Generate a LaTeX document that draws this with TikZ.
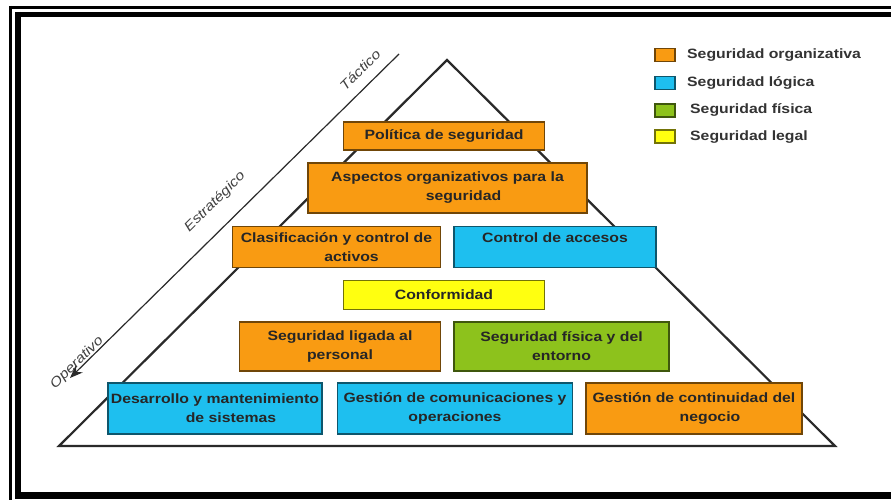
\documentclass[tikz,border=0pt]{standalone}
\usepackage{fontspec}
\setmainfont{Liberation Sans}[FakeStretch=1.17]
\usetikzlibrary{arrows.meta}
\definecolor{org}{HTML}{F99B12}
\definecolor{blu}{HTML}{1EBFEF}
\definecolor{grn}{HTML}{8DC21C}
\definecolor{ylw}{HTML}{FFFF10}
\definecolor{ink}{HTML}{2A2A2A}
\begin{document}
\begin{tikzpicture}[x=1pt,y=-1pt,
  box/.style={draw=#1!45!black, fill=#1, line width=1.4pt, inner sep=0pt, align=center,
    font=\fontsize{13.5}{19}\selectfont\bfseries, text=black!85},
  key/.style={draw=#1!45!black, fill=#1, line width=1.2pt, minimum width=20pt, minimum height=13pt, inner sep=0pt},
  keytext/.style={anchor=west, font=\fontsize{13.5}{16}\selectfont\bfseries, text=black!80, inner sep=0pt},
  level/.style={font=\fontsize{13.5}{16}\selectfont\itshape, text=black!75, rotate=44.6, inner sep=0pt},
  pyr/.style={line width=2.2pt, draw=ink, line join=miter},
  frame/.style={draw=black}
  ]
\useasboundingbox (0,0) rectangle (891,500);
\clip (0,0) rectangle (891,500);
\fill[white] (0,0) rectangle (891,500);
% frame
\draw[frame, line width=3pt] (9,7.5) -- (900,7.5);
\draw[frame, line width=3pt] (10.5,6) -- (10.5,510);
\draw[frame, line width=5pt] (15,14.5) -- (900,14.5);
\draw[frame, line width=6pt] (18,12) -- (18,499);
\draw[frame, line width=7pt] (15,495.5) -- (900,495.5);
% pyramid
\coordinate (apex) at (447,60);
\coordinate (bl) at (59,446);
\coordinate (br) at (835,446);
\draw[pyr] (apex) -- (br) -- (bl) -- cycle;
% level arrow
\coordinate (tTop) at (399,54);
\coordinate (tBot) at (70,378);
\draw[ink, line width=1.2pt, -{Stealth[length=13pt,width=10pt]}] (tTop) -- (tBot);
\node[level] (tac) at (360,70) {Táctico};
\node[level] (est) at (215,202) {Estratégico};
\node[level] (ope) at (77,363) {Operativo};
% boxes
\node[box=org, minimum width=201pt, minimum height=28pt] (pol) at (444,136) {Política de seguridad};
\node[box=org, minimum width=279pt, minimum height=50pt] (asp) at (447.5,188) {Aspectos organizativos para la\\\hspace*{32pt}seguridad};
\node[box=org, minimum width=208pt, minimum height=41.5pt] (cla) at (336.5,247) {Clasificación y control de\\\hspace*{30pt}activos};
\node[box=blu, minimum width=202pt, minimum height=41.5pt] (acc) at (555,247) {Control de accesos\\\mbox{}};
\node[box=ylw, minimum width=200.5pt, minimum height=28.5pt] (con) at (444,295) {Conformidad};
\node[box=org, minimum width=201.5pt, minimum height=49pt] (lig) at (340,346.5) {Seguridad ligada al\\personal};
\node[box=grn, minimum width=215pt, minimum height=49pt] (fis) at (561.5,346.5) {Seguridad física y del\\entorno};
\node[box=blu, minimum width=214pt, minimum height=51pt] (des) at (215,408.5) {Desarrollo y mantenimiento\\\hspace*{32pt}de sistemas};
\node[box=blu, minimum width=235.5pt, minimum height=51pt] (com) at (455,408.5) {Gestión de comunicaciones y\\operaciones};
\node[box=org, minimum width=216pt, minimum height=51pt] (cnt) at (694,408.5) {Gestión de continuidad del\\\hspace*{32pt}negocio};
% legend
\node[key=org] (k1) at (665,55) {};
\node[key=blu] (k2) at (665,83) {};
\node[key=grn] (k3) at (665,110.5) {};
\node[key=ylw] (k4) at (665,136.5) {};
\node[keytext] (l1) at (687,55) {Seguridad organizativa};
\node[keytext] (l2) at (687,82.5) {Seguridad lógica};
\node[keytext] (l3) at (690,110) {Seguridad física};
\node[keytext] (l4) at (690,137) {Seguridad legal};
\end{tikzpicture}
\end{document}
